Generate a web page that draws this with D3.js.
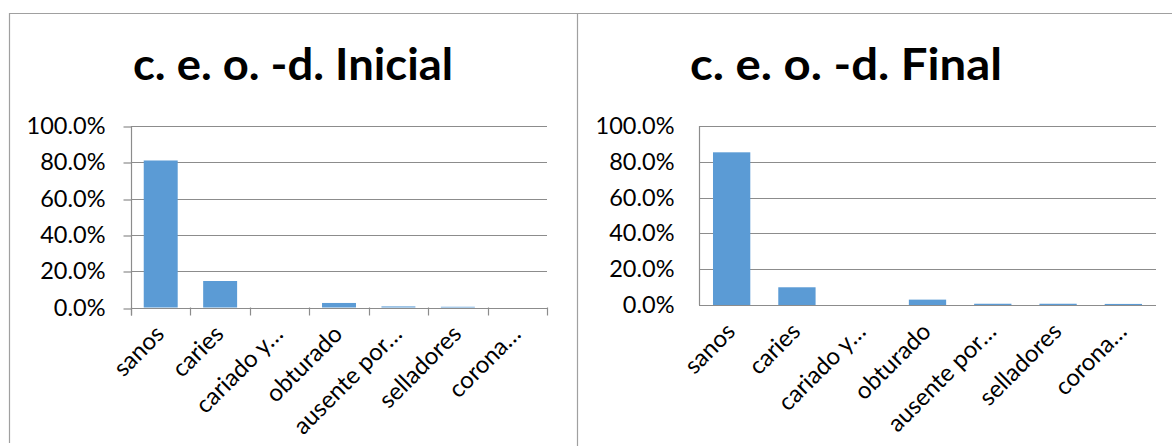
<!DOCTYPE html>
<html>
<head>
<meta charset="utf-8">
<script src="https://cdn.jsdelivr.net/npm/d3@7"></script>
<style>
  html, body { margin: 0; padding: 0; background: #fff; }
  svg { display: block; }
  text { font-family: Lato, "Open Sans", sans-serif; fill: #000; }
</style>
</head>
<body>
<svg id="chart" width="1172" height="446"></svg>
<script>
// Tooth-status categories (labels as truncated in the chart)
const categories = ["sanos", "caries", "cariado y…", "obturado", "ausente por…", "selladores", "corona…"];
// Share of teeth per status, initial and final examination
const inicialValues = [0.810, 0.146, 0.000, 0.025, 0.006, 0.004, 0.000];
const finalValues   = [0.853, 0.099, 0.000, 0.030, 0.007, 0.007, 0.006];
const yTickValues = [0, 0.2, 0.4, 0.6, 0.8, 1.0];
const titles = ["c. e. o. -d. Inicial", "c. e. o. -d. Final"];

const svg = d3.select("#chart");
const barColor = "#5b9bd5";
const gridColor = "#8c8c8c";
const frameColor = "#a0a0a0";
const fmt = d3.format(".1%");

// Chart frames
svg.append("line").attr("x1", 9).attr("x2", 1172).attr("y1", 13.5).attr("y2", 13.5)
  .attr("stroke", frameColor).attr("stroke-width", 1.2);
svg.append("line").attr("x1", 9.5).attr("x2", 9.5).attr("y1", 13).attr("y2", 443)
  .attr("stroke", frameColor).attr("stroke-width", 1.2);
svg.append("line").attr("x1", 577.5).attr("x2", 577.5).attr("y1", 13).attr("y2", 446)
  .attr("stroke", frameColor).attr("stroke-width", 1.2);

function drawPanel(opts) {
  const { values, title, left, right, top, bottom, titleX, titleW, ticksOut } = opts;
  const g = svg.append("g");

  const x = d3.scaleBand().domain(categories).range([left, right])
    .paddingInner(0.75 / 1.75).paddingOuter(0.75 / 3.5);
  const y = d3.scaleLinear().domain([0, 1]).range([bottom, top]);

  // Title
  g.append("text")
    .attr("x", titleX).attr("y", 80)
    .attr("text-anchor", "middle")
    .attr("font-size", 44).attr("font-weight", 700)
    .attr("textLength", titleW).attr("lengthAdjust", "spacingAndGlyphs")
    .text(title);

  // Horizontal gridlines
  g.selectAll("line.grid").data(yTickValues.filter(d => d > 0)).join("line")
    .attr("class", "grid")
    .attr("x1", left).attr("x2", right)
    .attr("y1", d => Math.round(y(d)) + 0.5).attr("y2", d => Math.round(y(d)) + 0.5)
    .attr("stroke", gridColor).attr("stroke-width", 1.2);

  // Y axis: labels, optional outer ticks, axis line
  const yAxis = d3.axisLeft(y).tickValues(yTickValues).tickFormat(fmt)
    .tickSize(ticksOut ? 8 : 0).tickPadding(ticksOut ? 18 : 25);
  const ya = g.append("g").attr("transform", `translate(${left + 0.5},0)`).call(yAxis);
  ya.select(".domain").remove();
  ya.selectAll(".tick line").attr("stroke", gridColor).attr("stroke-width", 1.2)
    .attr("transform", d => `translate(0,${Math.round(y(d)) + 0.5 - y(d)})`);
  ya.selectAll(".tick text").attr("font-size", 23.5).attr("font-family", "Lato, sans-serif")
    .attr("fill", "#000");
  g.append("line").attr("x1", left + 0.5).attr("x2", left + 0.5)
    .attr("y1", top).attr("y2", bottom + (ticksOut ? 8 : 0))
    .attr("stroke", gridColor).attr("stroke-width", 1.2);

  // Bars
  g.selectAll("rect.bar").data(values).join("rect")
    .attr("class", "bar")
    .attr("x", (d, i) => x(categories[i]))
    .attr("width", x.bandwidth())
    .attr("y", d => y(d))
    .attr("height", d => bottom - y(d))
    .attr("fill", barColor);

  // X axis line
  g.append("line").attr("x1", left).attr("x2", right)
    .attr("y1", Math.round(bottom) + 0.5).attr("y2", Math.round(bottom) + 0.5)
    .attr("stroke", gridColor).attr("stroke-width", 1.2);

  // Category boundary ticks
  if (ticksOut) {
    const bounds = d3.range(categories.length + 1).map(i => left + i * x.step());
    g.selectAll("line.xtick").data(bounds).join("line")
      .attr("class", "xtick")
      .attr("x1", d => Math.round(d) + 0.5).attr("x2", d => Math.round(d) + 0.5)
      .attr("y1", bottom).attr("y2", bottom + 8)
      .attr("stroke", gridColor).attr("stroke-width", 1.2);
  }

  // Rotated category labels
  g.selectAll("text.cat").data(categories).join("text")
    .attr("class", "cat")
    .attr("font-size", 24)
    .attr("text-anchor", "end")
    .attr("transform", d => `translate(${x(d) + x.bandwidth() / 2 + 5},${bottom + 28}) rotate(-45)`)
    .text(d => d);
}

drawPanel({
  values: inicialValues, title: titles[0],
  left: 131, right: 547, top: 126, bottom: 307.5,
  titleX: 293, titleW: 320, ticksOut: true
});
drawPanel({
  values: finalValues, title: titles[1],
  left: 699, right: 1156, top: 126, bottom: 305,
  titleX: 846, titleW: 312, ticksOut: false
});
</script>
</body>
</html>
